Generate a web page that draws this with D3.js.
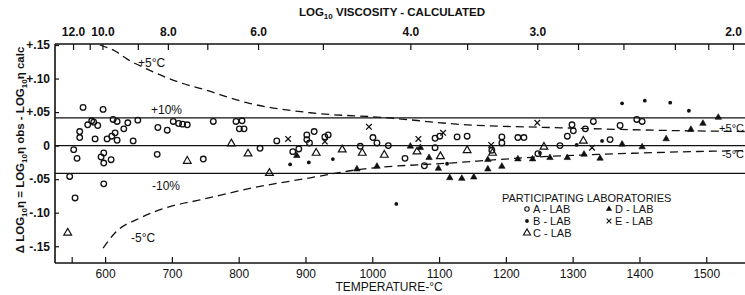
<!DOCTYPE html>
<meta charset="utf-8">
<script src="https://d3js.org/d3.v7.min.js"></script>
<style>
  body { margin: 0; background: #fff; }
  text { font-family: "Liberation Sans", Arial, sans-serif; fill: #111; }
</style>
<div id="chart"></div>
<script>

// A-LAB, open circles: [temperature degC, delta log viscosity]
var labA = [[553,-0.006],[558,-0.019],[547,-0.046],[555,-0.078],[567,0.057],[597,0.054],
  [562,0.021],[562,0.012],[574,0.031],[580,0.037],[583,0.035],[589,0.030],[585,0.010],[603,0.010],
  [612,0.039],[618,0.036],[615,0.019],[618,0.008],[610,0.014],[628,0.025],[634,0.034],[642,0.007],
  [649,0.038],[679,0.027],[693,0.023],[702,0.036],[710,0.033],[716,0.032],[723,0.031],
  [594,-0.017],[598,-0.011],[598,-0.026],[609,-0.021],[678,-0.013],[598,-0.057],
  [762,0.036],[796,0.036],[805,0.037],[801,0.025],[808,0.025],[857,0.007],[902,0.016],[902,0.009],
  [747,-0.020],[832,-0.004],[881,-0.009],[890,-0.005],[913,0.021],[906,0.004],[929,0.013],[934,0.016],
  [982,-0.001],[1001,0.012],[1007,0.004],[1024,0.000],[1049,-0.019],[1078,-0.030],[1094,-0.003],
  [1094,0.011],[1101,0.014],[1127,0.013],[1142,0.014],[1194,0.013],[1194,0.004],[1218,0.012],
  [1227,0.012],[1179,-0.007],[1248,-0.012],[1281,0.000],[1292,0.014],[1299,0.031],[1301,0.022],
  [1319,0.025],[1331,0.036],[1356,0.009],[1371,0.030],[1396,0.039],[1404,0.036]];
// B-LAB, dots
var labB = [[877,-0.028],[905,-0.025],[941,-0.020],[1036,-0.087],[1112,-0.027],[1251,-0.011],
  [1306,0.001],[1344,0.007],[1374,0.063],[1408,0.067],[1446,0.064],[1474,0.052]];
// C-LAB, open triangles
var labC = [[544,-0.130],[723,-0.023],[789,0.003],[814,-0.012],[846,-0.041],[916,-0.011],
  [955,-0.006],[985,-0.011],[1018,-0.014],[1067,-0.009],[1102,-0.016],[1142,-0.007],[1180,-0.011],
  [1257,-0.002],[1316,0.007]];
// D-LAB, filled triangles
var labD = [[887,-0.015],[977,-0.035],[1007,-0.031],[1057,-0.001],[1072,-0.003],[1085,-0.018],
  [1099,-0.034],[1116,-0.048],[1134,-0.049],[1152,-0.047],[1173,-0.035],[1194,-0.031],[1173,-0.021],
  [1218,-0.020],[1240,-0.020],[1266,-0.018],[1292,-0.018],[1317,-0.013],[1341,-0.019],[1374,0.002],
  [1404,-0.002],[1440,0.010],[1477,0.024],[1495,0.033],[1518,0.042]];
// E-LAB, crosses
var labE = [[874,0.010],[929,0.006],[995,0.028],[1069,0.010],[1106,0.019],[1178,0.001],
  [1247,0.034],[1329,-0.003]];

// +5 C and -5 C limit curves
var plus5 = [[592,0.150],[615,0.141],[633,0.129],[663,0.114],[712,0.094],[747,0.084],[812,0.064],
  [907,0.049],[1016,0.042],[1142,0.031],[1266,0.027],[1476,0.022],[1560,0.021]];
var minus5 = [[597,-0.153],[615,-0.130],[652,-0.108],[697,-0.091],[742,-0.081],[821,-0.063],
  [907,-0.048],[977,-0.036],[1116,-0.026],[1266,-0.016],[1341,-0.013],[1476,-0.009],[1560,-0.0075]];

// +-10 % lines (log10 1.1)
var tenPct = [0.0414, 0, -0.0414];

// ticks
var tempTicks = [550,600,700,800,900,1000,1100,1200,1300,1400,1500];
var deltaTicks = [0.15,0.10,0.05,0,-0.05,-0.10,-0.15];
var deltaLabels = ["+.15","+.10","+.05","0","-.05","-.10","-.15"];
// top axis: log10 viscosity value and the temperature where its tick sits
var viscTicks = [12.0,11.0,10.0,9.0,8.0,7.0,6.0,5.0,4.0,3.5,3.0,2.8,2.6,2.4,2.2,2.0];
var viscTemps = [552,577,596,649,694,753,829,926,1057,1142,1247,1308,1376,1453,1503,1540];
var viscLabels = ["12.0","","10.0","","8.0","","6.0","","4.0","","3.0","","","","","2.0"];

var width = 745, height = 295;

var svg = d3.select("#chart").append("svg")
  .attr("width", width).attr("height", height);

var x = d3.scaleLinear().domain([525, 1558]).range([55, 745]);
var y = d3.scaleLinear().domain([-0.175, 0.15]).range([263, 45]);

// frame lines
svg.append("line").attr("x1", x.range()[0]).attr("x2", width).attr("y1", 44).attr("y2", 44)
  .attr("stroke", "#111").attr("stroke-width", 1.4);
svg.append("line").attr("x1", x.range()[0]).attr("x2", width).attr("y1", 263).attr("y2", 263)
  .attr("stroke", "#111").attr("stroke-width", 1.6);
svg.append("line").attr("x1", 55).attr("x2", 55).attr("y1", 44).attr("y2", 263)
  .attr("stroke", "#111").attr("stroke-width", 1.6);

// bottom axis
var xAxis = svg.append("g").attr("transform", "translate(0,263)")
  .call(d3.axisBottom(x).tickValues(tempTicks).tickSize(-6).tickSizeOuter(0).tickPadding(6)
    .tickFormat(function(d){ return d < 600 ? "" : d; }));
xAxis.select(".domain").remove();
xAxis.selectAll("text").style("font-size", "12px").style("font-family", "Liberation Sans");
xAxis.selectAll("line").attr("stroke", "#111").attr("stroke-width", 1.2);

// top axis
var topAxis = svg.append("g").attr("transform", "translate(0,44)")
  .call(d3.axisTop(x).tickValues(viscTemps).tickSize(-6).tickSizeOuter(0).tickPadding(8)
    .tickFormat(function(d, i){ return viscLabels[i]; }));
topAxis.select(".domain").remove();
topAxis.selectAll("text").style("font-size", "12px").style("font-weight", "bold");
topAxis.selectAll("line").attr("stroke", "#111").attr("stroke-width", 1.2);

// left axis
var yAxis = svg.append("g").attr("transform", "translate(55,0)")
  .call(d3.axisLeft(y).tickValues(deltaTicks).tickSize(-4).tickSizeOuter(0).tickPadding(5)
    .tickFormat(function(d, i){ return deltaLabels[i]; }));
yAxis.select(".domain").remove();
yAxis.selectAll("text").style("font-size", "12px").style("font-weight", "bold");
yAxis.selectAll("line").attr("stroke", "#111").attr("stroke-width", 1.2);

// horizontal reference lines
svg.selectAll(".ref").data(tenPct).enter().append("line")
  .attr("x1", 55).attr("x2", width)
  .attr("y1", function(d){ return y(d); }).attr("y2", function(d){ return y(d); })
  .attr("stroke", "#111").attr("stroke-width", 1.1);

// dashed limit curves
var line = d3.line().x(function(d){ return x(d[0]); }).y(function(d){ return y(d[1]); })
  .curve(d3.curveMonotoneX);
[plus5, minus5].forEach(function(c){
  svg.append("path").attr("d", line(c)).attr("fill", "none")
    .attr("stroke", "#111").attr("stroke-width", 1.3).attr("stroke-dasharray", "8,5");
});

// markers
function addCircles(data){
  svg.append("g").selectAll("circle").data(data).enter().append("circle")
    .attr("cx", function(d){ return x(d[0]); }).attr("cy", function(d){ return y(d[1]); })
    .attr("r", 2.8).attr("fill", "none").attr("stroke", "#111").attr("stroke-width", 1.3);
}
function addDots(data){
  svg.append("g").selectAll("circle").data(data).enter().append("circle")
    .attr("cx", function(d){ return x(d[0]); }).attr("cy", function(d){ return y(d[1]); })
    .attr("r", 1.9).attr("fill", "#111");
}
function addTriangles(data, filled){
  var sym = d3.symbol().type(d3.symbolTriangle).size(filled ? 18 : 26);
  svg.append("g").selectAll("path").data(data).enter().append("path")
    .attr("d", sym)
    .attr("transform", function(d){ return "translate(" + x(d[0]) + "," + y(d[1]) + ")"; })
    .attr("fill", filled ? "#111" : "none").attr("stroke", "#111").attr("stroke-width", filled ? 0.6 : 1.2);
}
function addCrosses(data){
  var sym = d3.symbol().type(d3.symbolX).size(22);
  svg.append("g").selectAll("path").data(data).enter().append("path")
    .attr("d", sym)
    .attr("transform", function(d){ return "translate(" + x(d[0]) + "," + y(d[1]) + ")"; })
    .attr("fill", "none").attr("stroke", "#111").attr("stroke-width", 1.3);
}
addCircles(labA);
addDots(labB);
addTriangles(labC, false);
addTriangles(labD, true);
addCrosses(labE);

// curve and line annotations
var notes = [
  {t: "+5°C", x: 138, y: 67, a: "start"}, {t: "+10%", x: 151, y: 114, a: "start"},
  {t: "-10%", x: 152, y: 190, a: "start"}, {t: "-5°C", x: 131, y: 242, a: "start"},
  {t: "+5°C", x: 744, y: 132, a: "end"}, {t: "-5°C", x: 744, y: 158, a: "end"}
];
svg.selectAll(".note").data(notes).enter().append("text")
  .attr("x", function(d){ return d.x; }).attr("y", function(d){ return d.y; })
  .attr("text-anchor", function(d){ return d.a; })
  .style("font-size", function(d){ return d.a === "end" ? "11px" : "12px"; })
  .text(function(d){ return d.t; });

// titles
var tt = svg.append("text").attr("x", 392).attr("y", 16).attr("text-anchor", "middle")
  .style("font-size", "11.5px").style("font-weight", "bold");
tt.append("tspan").text("LOG");
tt.append("tspan").attr("dy", 3).style("font-size", "8px").text("10");
tt.append("tspan").attr("dy", -3).text(" VISCOSITY - CALCULATED");

svg.append("text").attr("x", 389).attr("y", 291).attr("text-anchor", "middle")
  .style("font-size", "12px").text("TEMPERATURE-°C");

var yl = svg.append("text").attr("transform", "translate(24,150) rotate(-90)")
  .attr("text-anchor", "middle").style("font-size", "11.5px").style("font-weight", "bold");
[["Δ LOG", "10", "η = LOG"], [null, "10", "η obs - LOG"], [null, "10", "η calc"]].forEach(function(p){
  if (p[0]) yl.append("tspan").text(p[0]);
  yl.append("tspan").attr("dy", 3).style("font-size", "8px").text(p[1]);
  yl.append("tspan").attr("dy", -3).text(p[2]);
});

// legend
var lg = svg.append("g");
lg.append("text").attr("x", 502).attr("y", 202).style("font-size", "11px").text("PARTICIPATING LABORATORIES");
var legendItems = [
  {name: "A-LAB", kind: "A", x: 524, y: 213}, {name: "D-LAB", kind: "D", x: 606, y: 213},
  {name: "B-LAB", kind: "B", x: 524, y: 225}, {name: "E-LAB", kind: "E", x: 606, y: 225},
  {name: "C-LAB", kind: "C", x: 524, y: 237}
];
legendItems.forEach(function(it){
  var cx = it.x + 3, cy = it.y - 4;
  if (it.kind === "A") lg.append("circle").attr("cx", cx).attr("cy", cy).attr("r", 2.2)
    .attr("fill", "none").attr("stroke", "#111").attr("stroke-width", 1.1);
  if (it.kind === "B") lg.append("circle").attr("cx", cx).attr("cy", cy).attr("r", 1.9).attr("fill", "#111");
  if (it.kind === "C") lg.append("path").attr("d", d3.symbol().type(d3.symbolTriangle).size(22))
    .attr("transform", "translate(" + cx + "," + cy + ")").attr("fill", "none").attr("stroke", "#111").attr("stroke-width", 1.1);
  if (it.kind === "D") lg.append("path").attr("d", d3.symbol().type(d3.symbolTriangle).size(16))
    .attr("transform", "translate(" + cx + "," + cy + ")").attr("fill", "#111");
  if (it.kind === "E") lg.append("path").attr("d", d3.symbol().type(d3.symbolX).size(16))
    .attr("transform", "translate(" + cx + "," + cy + ")").attr("fill", "none").attr("stroke", "#111").attr("stroke-width", 1.1);
  lg.append("text").attr("x", it.x + 9).attr("y", it.y).style("font-size", "11px").text(it.name.replace("-", " - "));
});

</script>
